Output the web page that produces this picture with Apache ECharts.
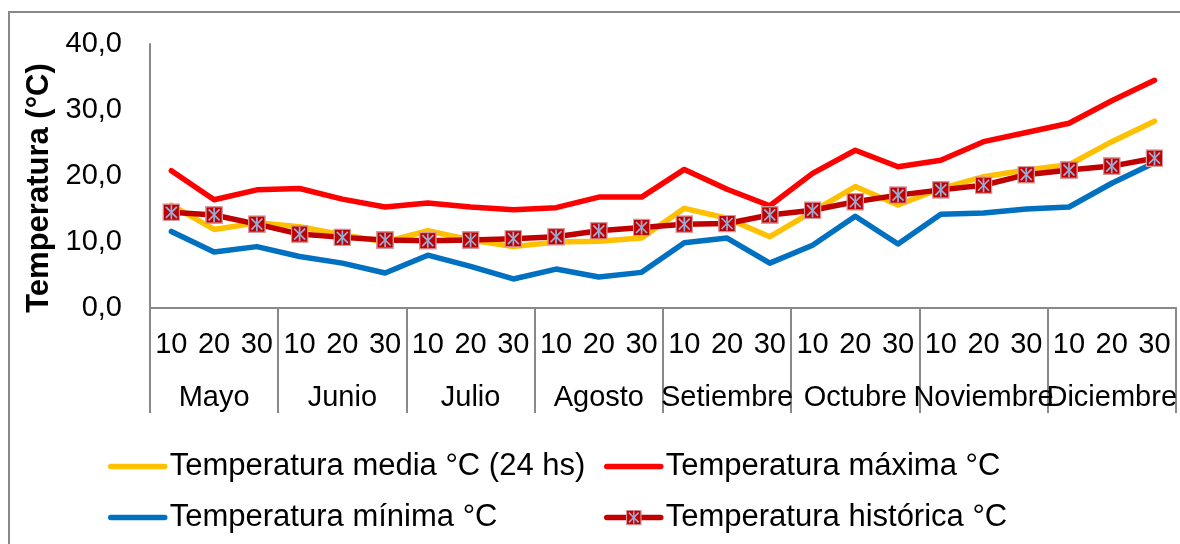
<!DOCTYPE html>
<html>
<head>
<meta charset="utf-8">
<script src="https://cdn.jsdelivr.net/npm/echarts@6/dist/echarts.min.js"></script>
<style>
  html, body { margin: 0; padding: 0; background: #ffffff; }
  #chart { width: 1180px; height: 544px; }
</style>
</head>
<body>
<div id="chart"></div>
<script>
// Decades (day 10, 20, 30) of each month, May to December
const months = ['Mayo', 'Junio', 'Julio', 'Agosto', 'Setiembre', 'Octubre', 'Noviembre', 'Diciembre'];
const decades = ['10', '20', '30'];
const yTicks = [0, 10, 20, 30, 40];

const tempMedia = [15.6, 11.9, 12.9, 12.3, 11.1, 10.0, 11.7, 10.3, 9.3, 10.0, 10.1, 10.6,
                   15.1, 13.6, 10.8, 14.6, 18.4, 15.6, 18.1, 19.9, 20.9, 21.7, 25.2, 28.3];
const tempMaxima = [20.8, 16.4, 17.9, 18.1, 16.5, 15.3, 15.9, 15.3, 14.9, 15.2, 16.8, 16.8,
                    21.0, 18.0, 15.5, 20.4, 23.9, 21.4, 22.4, 25.2, 26.6, 28.0, 31.4, 34.5];
const tempMinima = [11.6, 8.5, 9.3, 7.8, 6.8, 5.3, 8.0, 6.3, 4.4, 5.9, 4.7, 5.4,
                    9.9, 10.6, 6.8, 9.5, 13.9, 9.7, 14.2, 14.4, 15.0, 15.3, 18.9, 22.0];
const tempHistorica = [14.5, 14.1, 12.7, 11.2, 10.7, 10.3, 10.2, 10.3, 10.5, 10.8, 11.7, 12.2,
                       12.7, 12.8, 14.1, 14.8, 16.1, 17.1, 17.9, 18.6, 20.2, 20.9, 21.5, 22.7];

const seriesNames = ['Temperatura media °C (24 hs)', 'Temperatura máxima °C',
                     'Temperatura mínima °C', 'Temperatura histórica °C'];

const decadeCats = [];
months.forEach(function (m) {
  decades.forEach(function (d) { decadeCats.push(m + ' ' + d); });
});

// Star marker: dark red square with a light blue asterisk
const starSvg =
  '<svg xmlns="http://www.w3.org/2000/svg" width="36" height="36" viewBox="0 0 36 36">' +
  '<rect x="1.5" y="1.5" width="33" height="33" fill="#C00000" stroke="#D8979A" stroke-width="3"/>' +
  '<g stroke="#97AED6" stroke-width="3.4" stroke-linecap="butt">' +
  '<line x1="18" y1="4" x2="18" y2="32"/>' +
  '<line x1="7" y1="7" x2="29" y2="29"/>' +
  '<line x1="29" y1="7" x2="7" y2="29"/>' +
  '</g></svg>';
const starSymbol = 'image://data:image/svg+xml;charset=utf-8,' + encodeURIComponent(starSvg);

const FONT = '"Liberation Sans", Arial, sans-serif';
const AXIS_GRAY = '#898989';

const chart = echarts.init(document.getElementById('chart'), null, { renderer: 'canvas' });

function lineSeries(name, data, color, extra) {
  return Object.assign({
    name: name,
    type: 'line',
    xAxisIndex: 0,
    yAxisIndex: 0,
    data: data,
    symbol: 'none',
    showSymbol: false,
    animation: false,
    lineStyle: { color: color, width: 5.5, cap: 'round', join: 'round' },
    itemStyle: { color: color }
  }, extra || {});
}

// Plain line entries hide the legend symbol; the historical entry keeps its star
function legendEntry(name, withSymbol) {
  return withSymbol ? { name: name } : { name: name, itemStyle: { opacity: 0 } };
}

const legendCommon = {
  orient: 'vertical',
  top: 446,
  itemWidth: 54,
  itemHeight: 20,
  itemGap: 20,
  lineStyle: { width: 5.5, cap: 'round' },
  textStyle: { fontFamily: FONT, fontSize: 31, color: '#000000' }
};

const option = {
  animation: false,
  textStyle: { fontFamily: FONT },
  graphic: [{
    type: 'rect',
    shape: { x: 9, y: 12, width: 1300, height: 700 },
    style: { fill: 'none', stroke: AXIS_GRAY, lineWidth: 2 },
    silent: true,
    z: -1
  }],
  grid: { left: 150, right: 4, top: 44, bottom: 236, containLabel: false },
  legend: [
    Object.assign({}, legendCommon, {
      left: 103,
      data: [legendEntry(seriesNames[0], false), legendEntry(seriesNames[2], false)]
    }),
    Object.assign({}, legendCommon, {
      left: 599,
      data: [legendEntry(seriesNames[1], false), legendEntry(seriesNames[3], true)]
    })
  ],
  xAxis: [{
    type: 'category',
    position: 'bottom',
    data: decadeCats,
    boundaryGap: true,
    axisLine: { show: true, lineStyle: { color: AXIS_GRAY, width: 2 } },
    axisTick: { show: false },
    axisLabel: {
      interval: 0,
      margin: 22,
      fontFamily: FONT,
      fontSize: 29,
      color: '#000000',
      formatter: function (v) { return v.split(' ')[1]; }
    },
    splitLine: { show: false }
  }, {
    type: 'category',
    position: 'bottom',
    data: months,
    boundaryGap: true,
    axisLine: { show: true, lineStyle: { color: AXIS_GRAY, width: 2 } },
    axisTick: { show: true, length: 105, interval: 0, lineStyle: { color: AXIS_GRAY, width: 2 } },
    axisLabel: {
      interval: 0,
      margin: 75,
      fontFamily: FONT,
      fontSize: 29,
      color: '#000000'
    },
    splitLine: { show: false }
  }],
  yAxis: {
    type: 'value',
    min: yTicks[0],
    max: yTicks[yTicks.length - 1],
    interval: 10,
    name: 'Temperatura (°C)',
    nameLocation: 'middle',
    nameGap: 84,
    nameTextStyle: {
      fontFamily: FONT, fontSize: 31, fontWeight: 'bold', color: '#000000',
      padding: [0, 24, 0, 0]
    },
    axisLine: { show: true, lineStyle: { color: AXIS_GRAY, width: 2 } },
    axisTick: { show: false },
    splitLine: { show: false },
    axisLabel: {
      margin: 28,
      fontFamily: FONT,
      fontSize: 29,
      color: '#000000',
      formatter: function (v) { return v.toFixed(1).replace('.', ','); }
    }
  },
  series: [
    lineSeries(seriesNames[0], tempMedia, '#FFC000'),
    lineSeries(seriesNames[1], tempMaxima, '#FF0000'),
    lineSeries(seriesNames[2], tempMinima, '#0070C0'),
    lineSeries(seriesNames[3], tempHistorica, '#C00000', {
      symbol: starSymbol,
      showSymbol: true,
      symbolSize: 18,
      z: 5
    })
  ]
};

chart.setOption(option);
</script>
</body>
</html>
